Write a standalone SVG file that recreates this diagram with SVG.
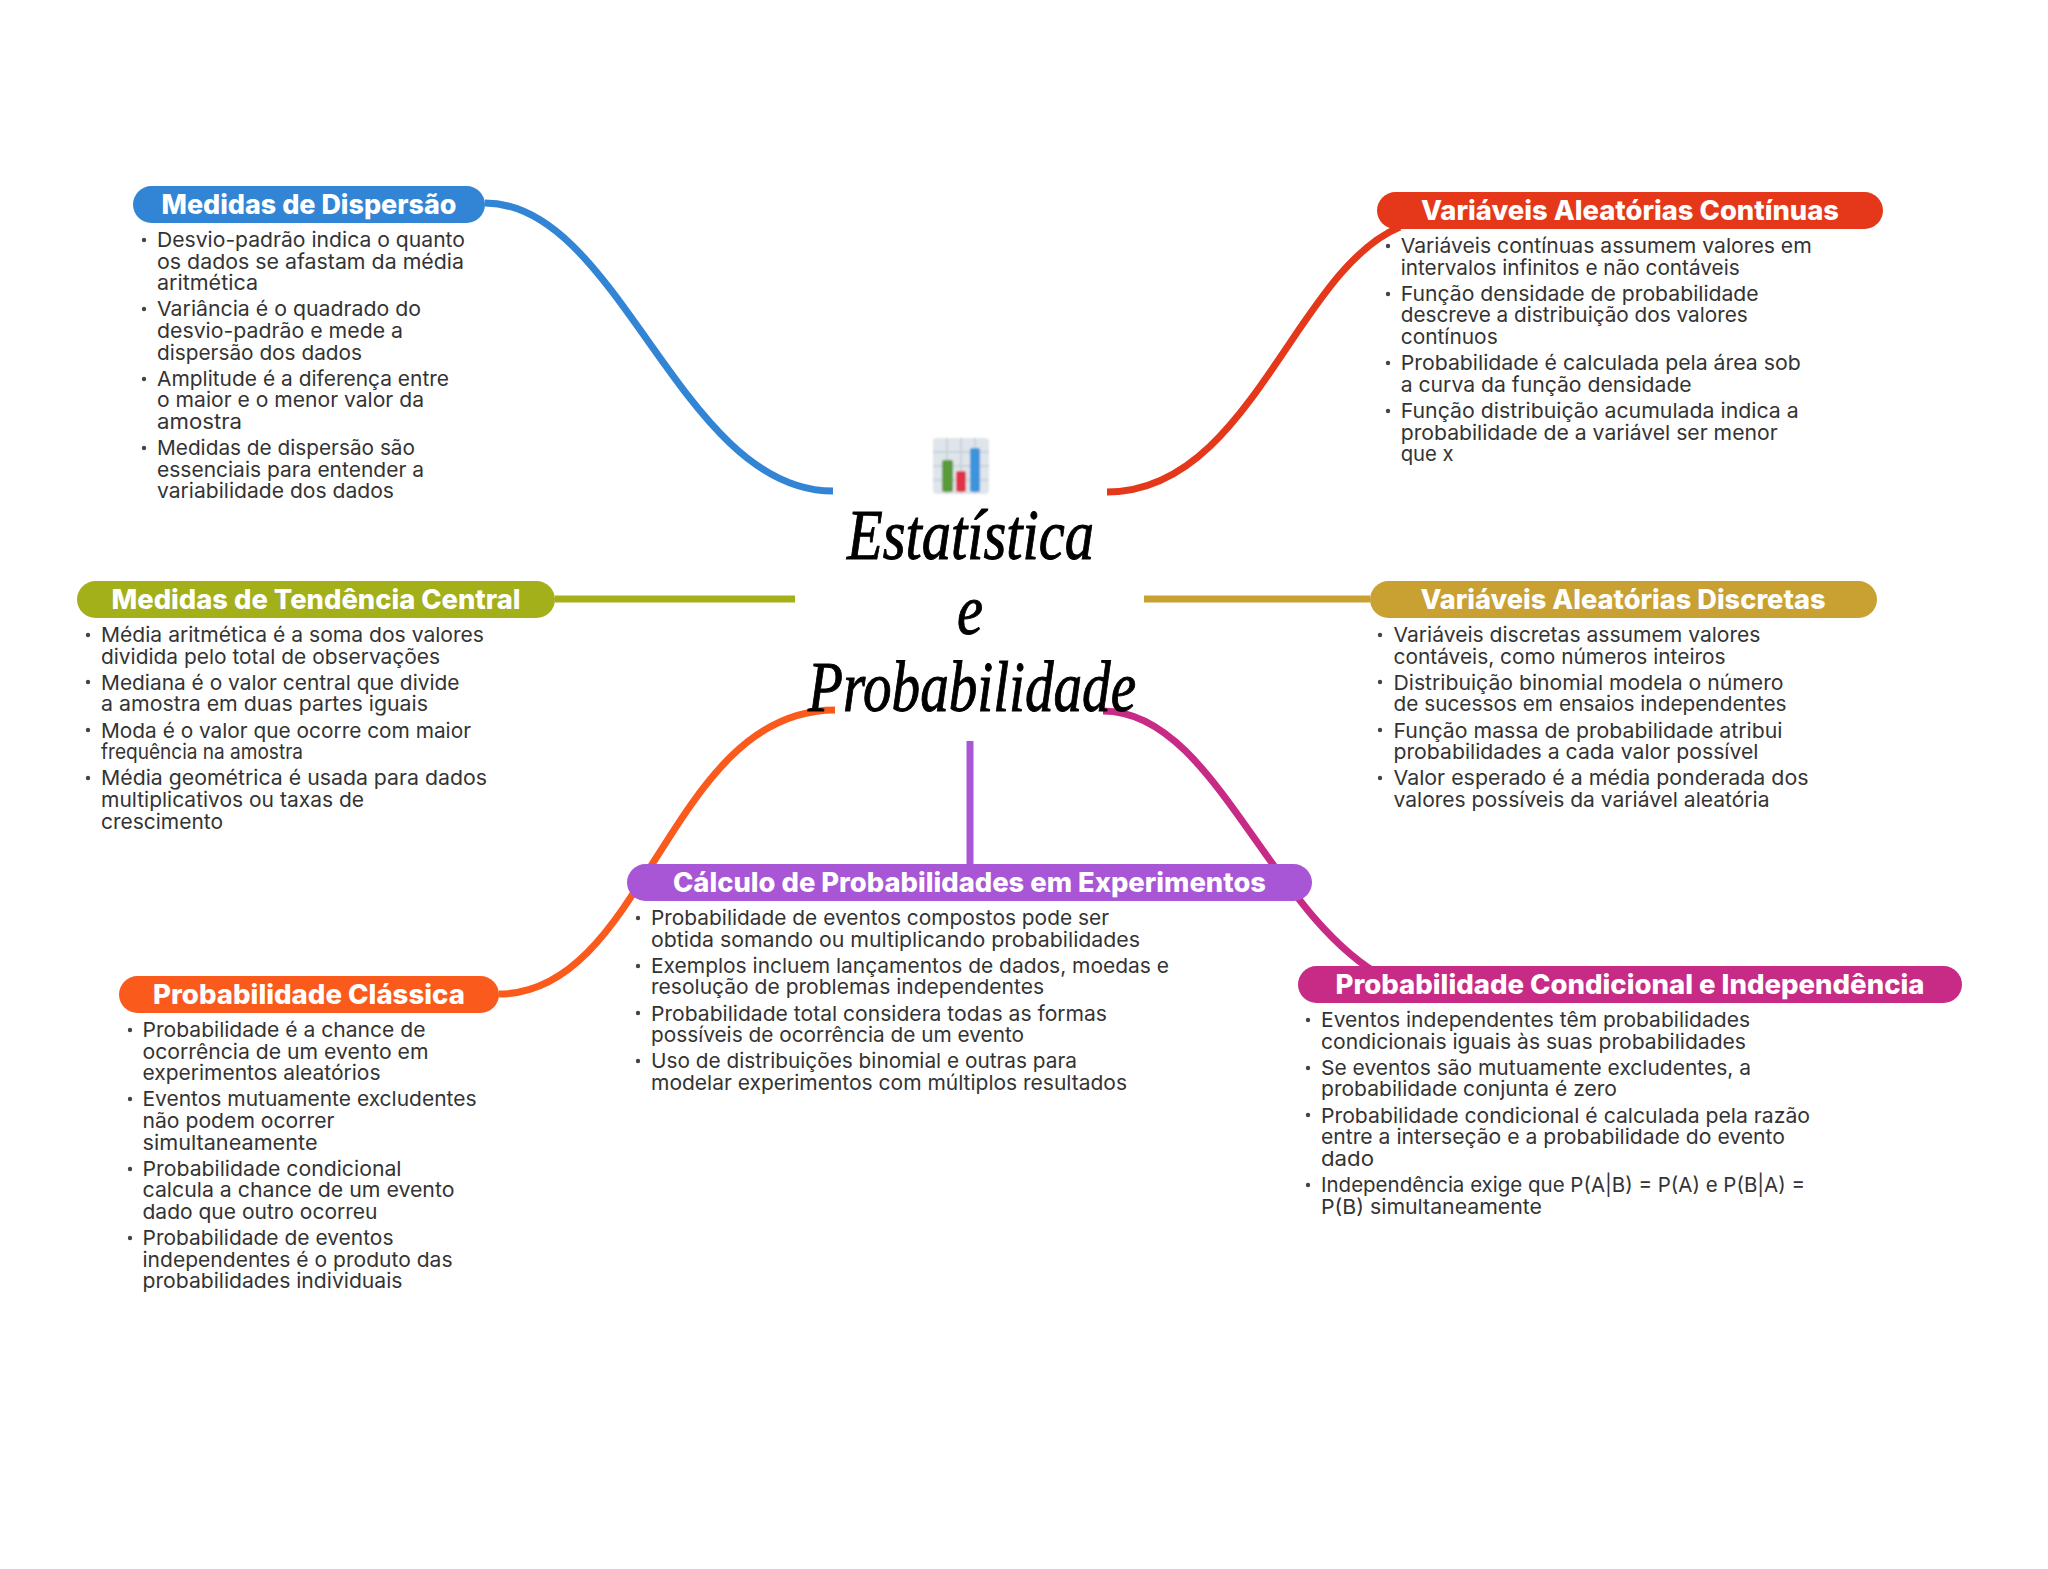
<svg xmlns="http://www.w3.org/2000/svg" width="2048" height="1569" viewBox="0 0 2048 1569">
<style>
.t{font-family:"Inter","Noto Sans",sans-serif;font-size:27px;font-weight:800;fill:#fff;text-anchor:middle;transform:translateY(1px)}
.l{font-family:"Inter","Noto Sans",sans-serif;font-size:20.5px;fill:#333;transform:translateY(1px)}
.b{fill:#444}
.c{fill:none;stroke-width:7}
.s{font-family:"Liberation Serif",serif;font-style:italic;font-size:72px;fill:#000;stroke:#000;stroke-width:1;text-anchor:start}
</style>
<defs><filter id="blur" x="-5%" y="-5%" width="110%" height="110%"><feGaussianBlur stdDeviation="1"/></filter></defs>
<rect width="2048" height="1569" fill="#fff"/>
<g id="connectors">
<path class="c" stroke="#3285d5" d="M485 203C620 203 680 491 833 491"/>
<path class="c" stroke="#e5381b" d="M1107 492C1250 492 1295 270 1400 227"/>
<path class="c" stroke="#a3b01a" d="M555 599H795"/>
<path class="c" stroke="#c9a132" d="M1144 599H1370"/>
<path class="c" stroke="#fb5a1d" d="M835 710C669 710 646 994 499 994"/>
<path class="c" stroke="#a856d6" d="M970 741V864"/>
<path class="c" stroke="#c72b85" d="M1103 711C1215 711 1268 915 1385 978"/>
</g>
<g id="center">
<g filter="url(#blur)">
<rect x="933" y="438" width="56" height="56" rx="4" fill="#dfe5ea"/>
<path d="M933 452H989M933 466H989M933 480H989M947 438V494M961 438V494M975 438V494" stroke="#c9d3da" stroke-width="2" fill="none"/>
<rect x="942" y="460" width="11" height="32" rx="2" fill="#5a9a3a"/>
<rect x="956" y="471" width="10" height="21" rx="2" fill="#e0304a"/>
<rect x="970" y="448" width="10" height="44" rx="2" fill="#3a94dc"/>
</g>
<text class="s" x="847" y="559" textLength="247" lengthAdjust="spacingAndGlyphs">Estatística</text>
<text class="s" x="957" y="634" textLength="26" lengthAdjust="spacingAndGlyphs">e</text>
<text class="s" x="808" y="711" textLength="328" lengthAdjust="spacingAndGlyphs">Probabilidade</text>
</g>
<g id="medidas-dispersao">
<rect x="133" y="186" width="352" height="37" rx="18.5" fill="#3285d5"/>
<text class="t" x="309" y="213" textLength="295" lengthAdjust="spacingAndGlyphs">Medidas de Dispersão</text>
<circle class="b" cx="144" cy="240" r="2.2"/><circle class="b" cx="144" cy="309" r="2.2"/><circle class="b" cx="144" cy="379" r="2.2"/><circle class="b" cx="144" cy="448" r="2.2"/>
<text class="l" x="157" y="246" textLength="308" lengthAdjust="spacingAndGlyphs">Desvio-padrão indica o quanto</text>
<text class="l" x="157" y="267.6" textLength="307" lengthAdjust="spacingAndGlyphs">os dados se afastam da média</text>
<text class="l" x="157" y="289.2" textLength="101" lengthAdjust="spacingAndGlyphs">aritmética</text>
<text class="l" x="157" y="315.4" textLength="264" lengthAdjust="spacingAndGlyphs">Variância é o quadrado do</text>
<text class="l" x="157" y="337" textLength="246" lengthAdjust="spacingAndGlyphs">desvio-padrão e mede a</text>
<text class="l" x="157" y="358.6" textLength="205" lengthAdjust="spacingAndGlyphs">dispersão dos dados</text>
<text class="l" x="157" y="384.8" textLength="292" lengthAdjust="spacingAndGlyphs">Amplitude é a diferença entre</text>
<text class="l" x="157" y="406.4" textLength="267" lengthAdjust="spacingAndGlyphs">o maior e o menor valor da</text>
<text class="l" x="157" y="428" textLength="85" lengthAdjust="spacingAndGlyphs">amostra</text>
<text class="l" x="157" y="454.2" textLength="258" lengthAdjust="spacingAndGlyphs">Medidas de dispersão são</text>
<text class="l" x="157" y="475.8" textLength="267" lengthAdjust="spacingAndGlyphs">essenciais para entender a</text>
<text class="l" x="157" y="497.4" textLength="237" lengthAdjust="spacingAndGlyphs">variabilidade dos dados</text>
</g>
<g id="variaveis-continuas">
<rect x="1377" y="192" width="506" height="37" rx="18.5" fill="#e5381b"/>
<text class="t" x="1630" y="219" textLength="418" lengthAdjust="spacingAndGlyphs">Variáveis Aleatórias Contínuas</text>
<circle class="b" cx="1388" cy="246" r="2.2"/><circle class="b" cx="1388" cy="294" r="2.2"/><circle class="b" cx="1388" cy="363" r="2.2"/><circle class="b" cx="1388" cy="411" r="2.2"/>
<text class="l" x="1400.7" y="252" textLength="411" lengthAdjust="spacingAndGlyphs">Variáveis contínuas assumem valores em</text>
<text class="l" x="1400.7" y="273.6" textLength="339" lengthAdjust="spacingAndGlyphs">intervalos infinitos e não contáveis</text>
<text class="l" x="1400.7" y="299.8" textLength="358" lengthAdjust="spacingAndGlyphs">Função densidade de probabilidade</text>
<text class="l" x="1400.7" y="321.4" textLength="347" lengthAdjust="spacingAndGlyphs">descreve a distribuição dos valores</text>
<text class="l" x="1400.7" y="343" textLength="97" lengthAdjust="spacingAndGlyphs">contínuos</text>
<text class="l" x="1400.7" y="369.2" textLength="400" lengthAdjust="spacingAndGlyphs">Probabilidade é calculada pela área sob</text>
<text class="l" x="1400.7" y="390.8" textLength="291" lengthAdjust="spacingAndGlyphs">a curva da função densidade</text>
<text class="l" x="1400.7" y="417" textLength="398" lengthAdjust="spacingAndGlyphs">Função distribuição acumulada indica a</text>
<text class="l" x="1400.7" y="438.6" textLength="377" lengthAdjust="spacingAndGlyphs">probabilidade de a variável ser menor</text>
<text class="l" x="1400.7" y="460.2" textLength="53" lengthAdjust="spacingAndGlyphs">que x</text>
</g>
<g id="tendencia-central">
<rect x="77" y="581" width="478" height="37" rx="18.5" fill="#a3b01a"/>
<text class="t" x="316" y="608" textLength="409" lengthAdjust="spacingAndGlyphs">Medidas de Tendência Central</text>
<circle class="b" cx="88" cy="635" r="2.2"/><circle class="b" cx="88" cy="682" r="2.2"/><circle class="b" cx="88" cy="730" r="2.2"/><circle class="b" cx="88" cy="778" r="2.2"/>
<text class="l" x="101" y="641" textLength="383" lengthAdjust="spacingAndGlyphs">Média aritmética é a soma dos valores</text>
<text class="l" x="101" y="662.6" textLength="339" lengthAdjust="spacingAndGlyphs">dividida pelo total de observações</text>
<text class="l" x="101" y="688.8" textLength="358.5" lengthAdjust="spacingAndGlyphs">Mediana é o valor central que divide</text>
<text class="l" x="101" y="710.4" textLength="327" lengthAdjust="spacingAndGlyphs">a amostra em duas partes iguais</text>
<text class="l" x="101" y="736.6" textLength="370" lengthAdjust="spacingAndGlyphs">Moda é o valor que ocorre com maior</text>
<text class="l" x="101" y="758.2" textLength="202" lengthAdjust="spacingAndGlyphs">frequência na amostra</text>
<text class="l" x="101" y="784.4" textLength="386" lengthAdjust="spacingAndGlyphs">Média geométrica é usada para dados</text>
<text class="l" x="101" y="806" textLength="263" lengthAdjust="spacingAndGlyphs">multiplicativos ou taxas de</text>
<text class="l" x="101" y="827.6" textLength="122" lengthAdjust="spacingAndGlyphs">crescimento</text>
</g>
<g id="variaveis-discretas">
<rect x="1370" y="581" width="507" height="37" rx="18.5" fill="#c9a132"/>
<text class="t" x="1623" y="608" textLength="405" lengthAdjust="spacingAndGlyphs">Variáveis Aleatórias Discretas</text>
<circle class="b" cx="1380" cy="635" r="2.2"/><circle class="b" cx="1380" cy="682" r="2.2"/><circle class="b" cx="1380" cy="730" r="2.2"/><circle class="b" cx="1380" cy="778" r="2.2"/>
<text class="l" x="1393.5" y="641" textLength="367" lengthAdjust="spacingAndGlyphs">Variáveis discretas assumem valores</text>
<text class="l" x="1393.5" y="662.6" textLength="332" lengthAdjust="spacingAndGlyphs">contáveis, como números inteiros</text>
<text class="l" x="1393.5" y="688.8" textLength="390" lengthAdjust="spacingAndGlyphs">Distribuição binomial modela o número</text>
<text class="l" x="1393.5" y="710.4" textLength="393" lengthAdjust="spacingAndGlyphs">de sucessos em ensaios independentes</text>
<text class="l" x="1393.5" y="736.6" textLength="389" lengthAdjust="spacingAndGlyphs">Função massa de probabilidade atribui</text>
<text class="l" x="1393.5" y="758.2" textLength="365" lengthAdjust="spacingAndGlyphs">probabilidades a cada valor possível</text>
<text class="l" x="1393.5" y="784.4" textLength="415" lengthAdjust="spacingAndGlyphs">Valor esperado é a média ponderada dos</text>
<text class="l" x="1393.5" y="806" textLength="376" lengthAdjust="spacingAndGlyphs">valores possíveis da variável aleatória</text>
</g>
<g id="calculo">
<rect x="627" y="864" width="685" height="37" rx="18.5" fill="#a856d6"/>
<text class="t" x="969.5" y="891" textLength="593" lengthAdjust="spacingAndGlyphs">Cálculo de Probabilidades em Experimentos</text>
<circle class="b" cx="638" cy="918" r="2.2"/><circle class="b" cx="638" cy="966" r="2.2"/><circle class="b" cx="638" cy="1013" r="2.2"/><circle class="b" cx="638" cy="1061" r="2.2"/>
<text class="l" x="651" y="924" textLength="458" lengthAdjust="spacingAndGlyphs">Probabilidade de eventos compostos pode ser</text>
<text class="l" x="651" y="945.6" textLength="489" lengthAdjust="spacingAndGlyphs">obtida somando ou multiplicando probabilidades</text>
<text class="l" x="651" y="971.8" textLength="518" lengthAdjust="spacingAndGlyphs">Exemplos incluem lançamentos de dados, moedas e</text>
<text class="l" x="651" y="993.4" textLength="393" lengthAdjust="spacingAndGlyphs">resolução de problemas independentes</text>
<text class="l" x="651" y="1019.6" textLength="456" lengthAdjust="spacingAndGlyphs">Probabilidade total considera todas as formas</text>
<text class="l" x="651" y="1041.2" textLength="373" lengthAdjust="spacingAndGlyphs">possíveis de ocorrência de um evento</text>
<text class="l" x="651" y="1067.4" textLength="426" lengthAdjust="spacingAndGlyphs">Uso de distribuições binomial e outras para</text>
<text class="l" x="651" y="1089" textLength="476" lengthAdjust="spacingAndGlyphs">modelar experimentos com múltiplos resultados</text>
</g>
<g id="classica">
<rect x="119" y="976" width="380" height="37" rx="18.5" fill="#fb5a1d"/>
<text class="t" x="309" y="1003" textLength="312" lengthAdjust="spacingAndGlyphs">Probabilidade Clássica</text>
<circle class="b" cx="130" cy="1030" r="2.2"/><circle class="b" cx="130" cy="1099" r="2.2"/><circle class="b" cx="130" cy="1169" r="2.2"/><circle class="b" cx="130" cy="1238" r="2.2"/>
<text class="l" x="142.5" y="1036" textLength="283" lengthAdjust="spacingAndGlyphs">Probabilidade é a chance de</text>
<text class="l" x="142.5" y="1057.6" textLength="286" lengthAdjust="spacingAndGlyphs">ocorrência de um evento em</text>
<text class="l" x="142.5" y="1079.2" textLength="238" lengthAdjust="spacingAndGlyphs">experimentos aleatórios</text>
<text class="l" x="142.5" y="1105.4" textLength="334" lengthAdjust="spacingAndGlyphs">Eventos mutuamente excludentes</text>
<text class="l" x="142.5" y="1127" textLength="192" lengthAdjust="spacingAndGlyphs">não podem ocorrer</text>
<text class="l" x="142.5" y="1148.6" textLength="175" lengthAdjust="spacingAndGlyphs">simultaneamente</text>
<text class="l" x="142.5" y="1174.8" textLength="259" lengthAdjust="spacingAndGlyphs">Probabilidade condicional</text>
<text class="l" x="142.5" y="1196.4" textLength="312" lengthAdjust="spacingAndGlyphs">calcula a chance de um evento</text>
<text class="l" x="142.5" y="1218" textLength="235" lengthAdjust="spacingAndGlyphs">dado que outro ocorreu</text>
<text class="l" x="142.5" y="1244.2" textLength="251" lengthAdjust="spacingAndGlyphs">Probabilidade de eventos</text>
<text class="l" x="142.5" y="1265.8" textLength="310" lengthAdjust="spacingAndGlyphs">independentes é o produto das</text>
<text class="l" x="142.5" y="1287.4" textLength="260" lengthAdjust="spacingAndGlyphs">probabilidades individuais</text>
</g>
<g id="condicional">
<rect x="1298" y="966" width="664" height="37" rx="18.5" fill="#c72b85"/>
<text class="t" x="1630" y="993" textLength="589" lengthAdjust="spacingAndGlyphs">Probabilidade Condicional e Independência</text>
<circle class="b" cx="1308" cy="1020" r="2.2"/><circle class="b" cx="1308" cy="1068" r="2.2"/><circle class="b" cx="1308" cy="1115" r="2.2"/><circle class="b" cx="1308" cy="1185" r="2.2"/>
<text class="l" x="1321" y="1026" textLength="429" lengthAdjust="spacingAndGlyphs">Eventos independentes têm probabilidades</text>
<text class="l" x="1321" y="1047.6" textLength="425" lengthAdjust="spacingAndGlyphs">condicionais iguais às suas probabilidades</text>
<text class="l" x="1321" y="1073.8" textLength="430" lengthAdjust="spacingAndGlyphs">Se eventos são mutuamente excludentes, a</text>
<text class="l" x="1321" y="1095.4" textLength="296" lengthAdjust="spacingAndGlyphs">probabilidade conjunta é zero</text>
<text class="l" x="1321" y="1121.6" textLength="489" lengthAdjust="spacingAndGlyphs">Probabilidade condicional é calculada pela razão</text>
<text class="l" x="1321" y="1143.2" textLength="464" lengthAdjust="spacingAndGlyphs">entre a interseção e a probabilidade do evento</text>
<text class="l" x="1321" y="1164.8" textLength="53" lengthAdjust="spacingAndGlyphs">dado</text>
<text class="l" x="1321" y="1191" textLength="484" lengthAdjust="spacingAndGlyphs">Independência exige que P(A|B) = P(A) e P(B|A) =</text>
<text class="l" x="1321" y="1212.6" textLength="221" lengthAdjust="spacingAndGlyphs">P(B) simultaneamente</text>
</g>
</svg>
